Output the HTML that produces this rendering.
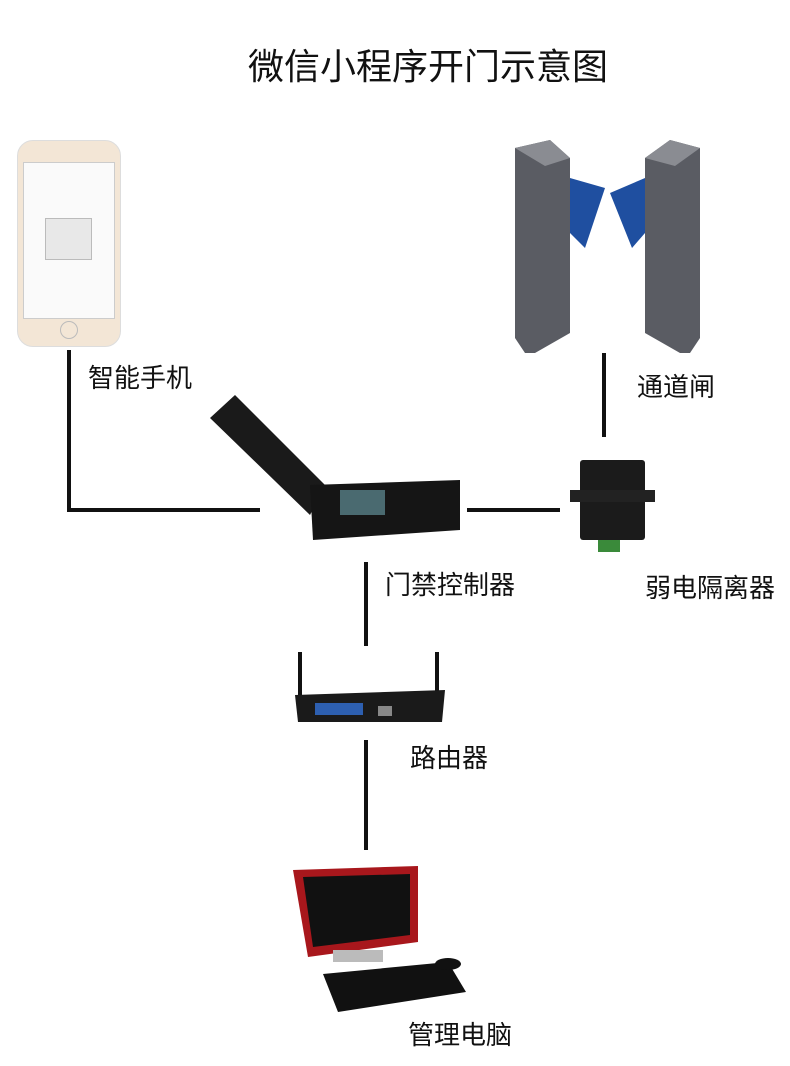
<!DOCTYPE html>
<html><head><meta charset="utf-8"><style>
body{margin:0;width:790px;height:1066px;background:#fff;position:relative;overflow:hidden;font-family:"Liberation Sans","Noto Sans CJK SC",sans-serif}
.a{position:absolute}
.t{position:absolute;font-size:26px;color:#111;white-space:nowrap}
.l{position:absolute;background:#111}
</style></head><body>
<div class="a" style="left:0;top:38px;width:856px;text-align:center;font-size:36px;color:#111">微信小程序开门示意图</div>

<!-- phone -->
<div class="a" style="left:17px;top:140px;width:102px;height:205px;border-radius:16px;background:#f3e6d6;border:1px solid #ddd"></div>
<div class="a" style="left:23px;top:162px;width:90px;height:155px;background:#fafafa;border:1px solid #ccc"></div>
<div class="a" style="left:45px;top:218px;width:45px;height:40px;background:#e8e8e8;border:1px solid #bbb"></div>
<div class="a" style="left:60px;top:321px;width:16px;height:16px;border-radius:50%;border:1px solid #bbb"></div>
<div class="t" style="left:88px;top:358px">智能手机</div>
<div class="l" style="left:67px;top:350px;width:4px;height:162px"></div>
<div class="l" style="left:67px;top:508px;width:193px;height:4px"></div>

<!-- gates -->
<svg class="a" style="left:510px;top:138px" width="200" height="222">
<polygon points="5,10 40,2 60,20 60,195 25,215 15,215 5,200" fill="#5a5c63"/>
<polygon points="5,10 40,2 60,20 35,28" fill="#8a8c92"/>
<polygon points="60,40 95,50 75,110 60,95" fill="#1f4fa0"/>
<polygon points="135,20 160,2 190,10 190,200 180,215 170,215 135,195" fill="#5a5c63"/>
<polygon points="135,20 160,2 190,10 165,28" fill="#8a8c92"/>
<polygon points="135,40 100,55 122,110 135,95" fill="#1f4fa0"/>
</svg>
<div class="t" style="left:637px;top:367px">通道闸</div>
<div class="l" style="left:602px;top:353px;width:4px;height:84px"></div>

<!-- controller -->
<svg class="a" style="left:205px;top:390px" width="262" height="155">
<polygon points="5,28 30,5 120,95 105,125" fill="#1a1a1a"/>
<polygon points="105,95 255,90 255,140 108,150" fill="#151515"/>
<rect x="135" y="100" width="45" height="25" fill="#4a6a70"/>
</svg>
<div class="t" style="left:385px;top:565px">门禁控制器</div>
<div class="l" style="left:467px;top:508px;width:93px;height:4px"></div>

<!-- isolator -->
<div class="a" style="left:580px;top:460px;width:65px;height:80px;background:#1b1b1b;border-radius:3px"></div>
<div class="a" style="left:570px;top:490px;width:85px;height:12px;background:#222"></div>
<div class="a" style="left:598px;top:540px;width:22px;height:12px;background:#3a8a3a"></div>
<div class="t" style="left:645px;top:568px">弱电隔离器</div>

<div class="l" style="left:364px;top:562px;width:4px;height:84px"></div>

<!-- router -->
<svg class="a" style="left:290px;top:650px" width="160" height="80">
<rect x="8" y="2" width="4" height="45" fill="#111"/>
<rect x="145" y="2" width="4" height="45" fill="#111"/>
<polygon points="5,45 155,40 152,72 8,72" fill="#1a1a1a"/>
<rect x="25" y="53" width="48" height="12" fill="#2d5fb0"/>
<rect x="88" y="56" width="14" height="10" fill="#888"/>
</svg>
<div class="t" style="left:410px;top:738px">路由器</div>
<div class="l" style="left:364px;top:740px;width:4px;height:110px"></div>

<!-- computer -->
<svg class="a" style="left:288px;top:862px" width="190" height="160">
<polygon points="5,8 130,4 130,80 20,95" fill="#a8171c"/>
<polygon points="15,15 122,12 122,73 25,85" fill="#111"/>
<rect x="45" y="88" width="50" height="12" fill="#bbb"/>
<polygon points="35,112 160,100 178,130 50,150" fill="#111"/>
<ellipse cx="160" cy="102" rx="13" ry="6" fill="#111"/>
</svg>
<div class="t" style="left:408px;top:1015px">管理电脑</div>
</body></html>
